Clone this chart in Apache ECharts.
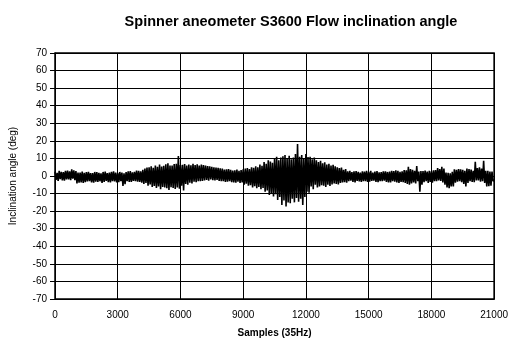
<!DOCTYPE html>
<html>
<head>
<meta charset="utf-8">
<script src="https://cdn.jsdelivr.net/npm/echarts@6/dist/echarts.min.js"></script>
<style>html,body{margin:0;padding:0;background:#fff;}#c{width:511px;height:343px;}</style>
</head>
<body>
<div id="c"></div>
<script>
var sampleStep = 50;
var yTicks = [-70,-60,-50,-40,-30,-20,-10,0,10,20,30,40,50,60,70];
var xTicks = [0,3000,6000,9000,12000,15000,18000,21000];
// inclination angle (deg), one reading every 50 samples, each line = 1000 samples
var angleA = [
  2.5,-2.2,1.8,-2.8,3.0,-1.8,2.4,-2.5,2.2,-2.6,2.9,-1.9,3.1,-2.0,2.6,-2.4,3.8,-1.5,3.2,-2.3,
  2.8,-4.2,1.9,-3.8,2.0,-3.6,2.5,-4.0,1.8,-3.5,2.2,-3.1,2.4,-3.0,1.7,-3.6,1.6,-3.8,2.3,-3.2,
  2.2,-3.4,1.8,-3.0,1.5,-3.9,2.3,-3.3,2.5,-2.8,1.6,-3.5,1.9,-3.6,2.4,-2.9,2.6,-3.1,2.0,-3.6,
  1.8,-3.5,2.3,-3.0,2.0,-5.7,1.5,-4.6,2.2,-3.0,2.6,-3.4,2.8,-3.3,2.1,-2.8,2.4,-3.0,3.1,-3.2,
  3.0,-3.4,2.6,-3.8,3.5,-4.5,4.2,-4.0,4.8,-5.5,5.0,-4.8,5.5,-6.2,4.6,-5.6,6.0,-6.8,5.2,-6.0,
  6.5,-7.5,5.4,-6.2,5.8,-6.5,6.6,-7.0,7.2,-8.0,5.9,-6.4,6.0,-6.8,6.8,-7.4,7.0,-6.5,11.4,-7.2,
  6.2,-5.5,6.4,-8.3,6.8,-4.5,5.9,-5.0,6.5,-3.8,6.1,-4.2,7.0,-3.2,6.3,-3.6,6.6,-3.0,6.0,-2.9
];
var angleB = [
  6.5,-2.8,6.2,-2.5,6.0,-2.2,5.6,-2.6,5.5,-2.0,5.2,-2.4,5.0,-2.5,4.8,-2.2,4.6,-2.8,4.4,-3.0,
  4.2,-3.0,3.6,-3.4,3.8,-3.2,4.0,-2.9,3.5,-3.5,3.1,-3.7,3.2,-3.8,3.6,-3.3,3.0,-4.0,3.4,-3.6,
  3.8,-5.0,4.2,-4.4,4.5,-5.5,4.0,-5.2,5.0,-6.5,4.6,-5.8,5.5,-7.0,5.0,-6.2,6.5,-7.5,5.8,-6.8,
  8.0,-9.0,7.0,-8.2,9.0,-10.8,8.2,-9.6,7.5,-11.7,9.6,-10.4,11.0,-13.6,9.0,-12.0,10.5,-16.5,11.2,-14.0,
  12.0,-17.4,10.0,-15.0,11.5,-15.5,9.5,-13.0,10.5,-15.0,12.5,-12.5,18.2,-14.6,11.0,-13.0,12.0,-16.5,10.0,-12.0,
  12.5,-8.9,10.8,-9.5,11.0,-6.0,9.5,-7.5,10.5,-5.0,9.0,-6.5,8.0,-6.0,8.6,-5.2,7.2,-5.5,7.8,-6.2,
  6.5,-5.0,7.0,-5.6,6.0,-4.8,6.4,-4.2,5.5,-4.5,5.0,-4.8,4.5,-4.0,4.8,-3.6,3.5,-3.5,4.0,-3.8
];
var angleC = [
  2.6,-3.0,3.0,-2.7,2.2,-3.3,2.7,-3.6,2.8,-2.8,2.3,-3.1,2.0,-3.4,2.6,-2.9,2.5,-3.0,3.0,-3.4,
  2.4,-3.2,2.9,-2.8,2.0,-2.6,2.5,-3.3,2.8,-3.5,2.1,-3.0,2.2,-3.0,2.7,-2.7,2.6,-3.3,2.3,-3.6,
  2.5,-3.6,2.9,-3.0,2.8,-3.2,3.3,-3.7,3.0,-4.0,2.4,-3.3,2.6,-3.5,3.4,-3.9,3.2,-4.5,5.3,-5.0,
  4.0,-4.2,3.5,-3.6,3.0,-4.2,5.7,-3.0,2.5,-8.9,2.8,-5.0,2.8,-3.5,3.1,-3.0,2.5,-4.0,3.0,-3.4,
  2.6,-3.8,3.2,-3.0,3.4,-3.0,4.5,-2.5,4.0,-2.8,5.3,-3.6,4.2,-5.0,2.0,-6.5,1.8,-7.0,1.5,-6.0,
  2.4,-6.0,3.8,-3.8,3.5,-3.2,4.0,-3.0,3.8,-3.5,3.5,-4.5,3.0,-6.0,4.2,-4.0,3.9,-3.0,3.6,-3.4,
  3.0,-3.5,8.1,-2.5,4.5,-2.5,5.0,-3.2,4.2,-3.0,8.7,-4.0,3.0,-6.0,3.0,-5.8,2.5,-5.5,2.5,-3.0,
  -2.0
];
var angle = angleA.concat(angleB, angleC);
var data = angle.map(function(v, i){ return [i * sampleStep, v]; });

var chart = echarts.init(document.getElementById('c'), null, {renderer:'canvas'});
var font = 'Liberation Sans, Arial, sans-serif';
chart.setOption({
  animation: false,
  title: {
    text: 'Spinner aneometer S3600 Flow inclination angle',
    left: 286, top: 9, textAlign: 'center',
    textStyle: {fontFamily: font, fontSize: 14.5, fontWeight: 'bold', color: '#000'}
  },
  grid: {left: 52, right: 15, top: 53, bottom: 43, show: true, borderColor: '#000', borderWidth: 1.5, backgroundColor: 'transparent'},
  xAxis: {
    type: 'value', min: xTicks[0], max: xTicks[xTicks.length-1], interval: 3000,
    name: 'Samples (35Hz)', nameLocation: 'middle', nameGap: 29,
    nameTextStyle: {fontFamily: font, fontSize: 10, fontWeight: 'bold', color: '#000'},
    axisLine: {onZero: false, lineStyle: {color: '#000', width: 1}},
    axisTick: {show: false},
    axisLabel: {fontFamily: font, fontSize: 10, color: '#000', margin: 11,
      formatter: function(v){ return String(v); }},
    splitLine: {show: true, lineStyle: {color: '#000', width: 1}}
  },
  yAxis: {
    type: 'value', min: yTicks[0], max: yTicks[yTicks.length-1], interval: 10,
    name: 'Inclination angle (deg)', nameLocation: 'middle', nameGap: 37, nameRotate: 90,
    nameTextStyle: {fontFamily: font, fontSize: 10, color: '#000'},
    axisLine: {onZero: false, lineStyle: {color: '#000', width: 1}},
    axisTick: {show: true, inside: false, length: 5, lineStyle: {color: '#000'}},
    axisLabel: {fontFamily: font, fontSize: 10, color: '#000', margin: 8},
    splitLine: {show: true, lineStyle: {color: '#000', width: 1}}
  },
  series: [{
    type: 'line', data: data, showSymbol: false, symbol: 'none',
    lineStyle: {color: '#000', width: 1.6}, z: 5
  }]
});
</script>
</body>
</html>
